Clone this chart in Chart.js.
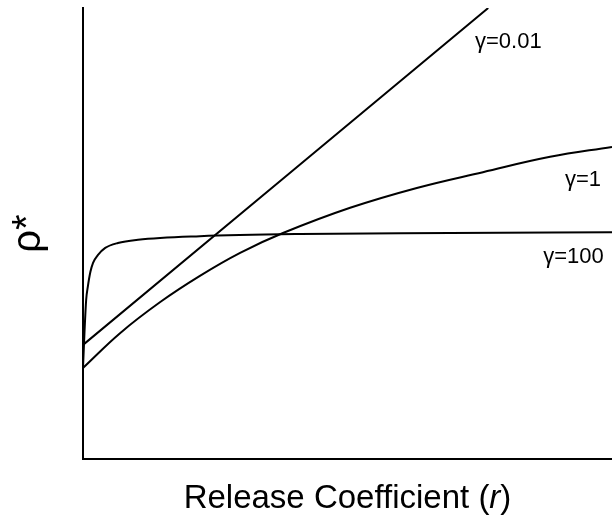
<!DOCTYPE html>
<html>
<head>
<meta charset="utf-8">
<script src="https://cdn.jsdelivr.net/npm/chart.js@4.4.0/dist/chart.umd.min.js"></script>
<style>
  html, body { margin: 0; padding: 0; background: #fff; }
  #wrap { width: 612px; height: 518px; }
</style>
</head>
<body>
<div id="wrap"><canvas id="chart" width="612" height="518"></canvas></div>
<script>
// release coefficient (x) and rho* (y) for each gamma (0..10 scale)
const rGamma001 = [0, 7.66];
const rhoGamma001 = [2.53, 10];

const rGamma1 = [0, 0.70, 1.46, 2.21, 2.97, 3.78, 5.05, 6.31, 7.56, 8.83, 10];
const rhoGamma1 = [2.02, 2.79, 3.48, 4.06, 4.57, 5.01, 5.57, 6.01, 6.36, 6.70, 6.92];

const rGamma100 = [0, 0.03, 0.06, 0.09, 0.14, 0.19, 0.28, 0.42, 0.66, 1.04, 2.21, 4.10, 6.94, 10];
const rhoGamma100 = [2.02, 2.86, 3.53, 3.81, 4.15, 4.35, 4.52, 4.68, 4.79, 4.86, 4.94, 4.99, 5.01, 5.03];

// curve labels
const curveLabels = ["\u03b3=0.01", "\u03b3=1", "\u03b3=100"];
const labelAt = [[7.41, 9.11], [9.11, 6.05], [8.70, 4.35]];

const xTitle = "Release Coefficient (";
const xTitleVar = "r";
const yTitle = "\u03c1*";

const FONT = "Arial, 'Liberation Sans', sans-serif";

function toPoints(xs, ys) {
    return xs.map((x, i) => ({ x: x, y: ys[i] }));
}

function curve(label, xs, ys, mode) {
    return {
        label: label,
        data: toPoints(xs, ys),
        borderColor: "#000",
        borderWidth: 2,
        pointRadius: 0,
        fill: false,
        tension: 0.4,
        cubicInterpolationMode: mode
    };
}

// draws curve labels and axis titles
const textPlugin = {
    id: "textPlugin",
    afterDraw(chart) {
        const c = chart.ctx;
        const xs = chart.scales.x, ys = chart.scales.y;
        const area = chart.chartArea;
        c.save();
        c.fillStyle = "#000";
        c.textBaseline = "alphabetic";
        c.textAlign = "left";
        c.font = "22px " + FONT;
        curveLabels.forEach((t, i) => {
            c.fillText(t, xs.getPixelForValue(labelAt[i][0]), ys.getPixelForValue(labelAt[i][1]));
        });

        // x title with italic r
        const fs = "33px ";
        c.font = fs + FONT;
        const w1 = c.measureText(xTitle).width;
        c.font = "italic " + fs + FONT;
        const w2 = c.measureText(xTitleVar).width;
        c.font = fs + FONT;
        const w3 = c.measureText(")").width;
        let x0 = (area.left + area.right) / 2 - (w1 + w2 + w3) / 2;
        const yb = 508;
        c.fillText(xTitle, x0, yb);
        c.font = "italic " + fs + FONT;
        c.fillText(xTitleVar, x0 + w1, yb);
        c.font = fs + FONT;
        c.fillText(")", x0 + w1 + w2, yb);

        // y title, rotated
        c.translate(40, (area.top + area.bottom) / 2);
        c.rotate(-Math.PI / 2);
        c.font = "40px " + FONT;
        c.textAlign = "center";
        c.fillText(yTitle, 0, 0);
        c.restore();
    }
};

const ctx = document.getElementById("chart").getContext("2d");
new Chart(ctx, {
    type: "line",
    data: {
        datasets: [
            curve(curveLabels[0], rGamma001, rhoGamma001, "default"),
            curve(curveLabels[1], rGamma1, rhoGamma1, "default"),
            curve(curveLabels[2], rGamma100, rhoGamma100, "monotone")
        ]
    },
    options: {
        responsive: false,
        animation: false,
        layout: { padding: { left: 75, top: 8, right: 0, bottom: 51 } },
        plugins: { legend: { display: false }, tooltip: { enabled: false } },
        scales: {
            x: {
                type: "linear", min: 0, max: 10,
                ticks: { display: false },
                grid: { display: false },
                border: { color: "#000", width: 2 }
            },
            y: {
                min: 0, max: 10,
                ticks: { display: false },
                grid: { display: false },
                border: { color: "#000", width: 2 }
            }
        }
    },
    plugins: [textPlugin]
});
</script>
</body>
</html>
